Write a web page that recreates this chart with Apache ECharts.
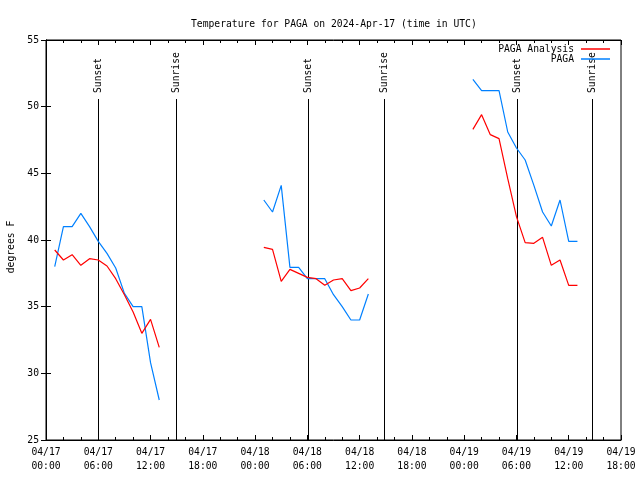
<!DOCTYPE html>
<html>
<head>
<meta charset="utf-8">
<script src="https://cdn.jsdelivr.net/npm/echarts@6/dist/echarts.min.js"></script>
<style>html,body{margin:0;padding:0;background:#fff}#c{width:640px;height:480px}</style>
</head>
<body>
<div id="c"></div>
<script>
// Hours since 2024-04-17 00:00 UTC
const obsHours = [1,2,3,4,5,6,7,8,9,10,11,12,13,
                  25,26,27,28,29,30,31,32,33,34,35,36,37,
                  49,50,51,52,53,54,55,56,57,58,59,60,61];
const analysisTemps = [39.25,38.5,38.9,38.1,38.6,38.5,38.05,37.1,35.9,34.6,33.0,34.05,31.95,
                       39.45,39.3,36.9,37.8,37.5,37.2,37.1,36.6,37.0,37.1,36.2,36.4,37.1,
                       48.3,49.4,47.9,47.6,44.6,41.75,39.8,39.75,40.2,38.1,38.5,36.6,36.6];
const pagaTemps = [38.0,41.0,41.0,42.0,41.0,39.9,39.0,37.9,36.0,35.0,35.0,30.8,28.0,
                   43.0,42.1,44.1,37.95,37.95,37.1,37.1,37.1,35.9,35.0,34.0,34.0,35.95,
                   52.05,51.2,51.2,51.2,48.1,46.9,46.0,44.1,42.1,41.05,43.0,39.9,39.9];
const sunHours = [6.0, 14.87, 30.02, 38.75, 54.03, 62.62];
const sunLabels = ['Sunset','Sunrise','Sunset','Sunrise','Sunset','Sunrise'];
const xTickHours = [0,6,12,18,24,30,36,42,48,54,60,66];
const baseUTC = Date.UTC(2024,3,17,0,0);

function buildSeries(vals){
  const out = [];
  for (let i=0;i<obsHours.length;i++){
    if (i>0 && obsHours[i]-obsHours[i-1]>1) out.push([ (obsHours[i]+obsHours[i-1])/2, null ]);
    out.push([obsHours[i], vals[i]]);
  }
  return out;
}
function pad(n){return (n<10?'0':'')+n;}
function fmtHour(v){
  const d = new Date(baseUTC + v*3600e3);
  return pad(d.getUTCMonth()+1)+'/'+pad(d.getUTCDate())+'\n'+pad(d.getUTCHours())+':'+pad(d.getUTCMinutes());
}
const FONT = '"DejaVu Sans Mono", monospace';
const FS = 9.7;

const chart = echarts.init(document.getElementById('c'), null, {renderer:'canvas'});
const tickStyle = {show:true, inside:true, length:5, lineStyle:{color:'#000', width:1}};
const minorStyle = {show:true, splitNumber:3, length:3, lineStyle:{color:'#000', width:1}};
chart.setOption({
  animation:false,
  backgroundColor:'#fff',
  title:{text:'Temperature for PAGA on 2024-Apr-17 (time in UTC)', left:186, top:14,
    textStyle:{fontFamily:FONT, fontSize:FS, fontWeight:'normal', color:'#000'}},
  legend:[
    {data:['PAGA Analysis'], right:30, top:44, orient:'vertical', align:'right', icon:'rect',
     itemWidth:29, itemHeight:1.5, itemGap:0, padding:0,
     textStyle:{fontFamily:FONT, fontSize:FS, color:'#000', padding:[0,2,0,0]}},
    {data:['PAGA'], right:30, top:54, orient:'vertical', align:'right', icon:'rect',
     itemWidth:29, itemHeight:1.5, itemGap:0, padding:0,
     textStyle:{fontFamily:FONT, fontSize:FS, color:'#000', padding:[0,2,0,0]}}
  ],
  graphic:[{type:'text', x:11, y:247, rotation:Math.PI/2,
    style:{text:'degrees F', fontFamily:FONT, fontSize:FS, fill:'#000', align:'center', verticalAlign:'middle'}}],
  grid:{left:46, right:19, top:40, bottom:40, show:true, borderColor:'#000', borderWidth:1, backgroundColor:'transparent'},
  xAxis:[
    {type:'value', min:0, max:66, interval:6, position:'bottom',
     axisLine:{show:true, lineStyle:{color:'#000'}}, axisTick:tickStyle, minorTick:minorStyle,
     splitLine:{show:false}, minorSplitLine:{show:false},
     axisLabel:{formatter:fmtHour, fontFamily:FONT, fontSize:FS, color:'#000', lineHeight:13.5, margin:6,
       customValues: xTickHours}},
    {type:'value', min:0, max:66, interval:6, position:'top',
     axisLine:{show:true, lineStyle:{color:'#000'}}, axisTick:tickStyle, minorTick:minorStyle,
     splitLine:{show:false}, axisLabel:{show:false}}
  ],
  yAxis:[
    {type:'value', min:25, max:55, interval:5, position:'left',
     axisLine:{show:true, lineStyle:{color:'#000'}}, axisTick:tickStyle, splitLine:{show:false},
     axisLabel:{fontFamily:FONT, fontSize:FS, color:'#000', margin:7}},
    {type:'value', min:25, max:55, interval:5, position:'right',
     axisLine:{show:true, lineStyle:{color:'#000'}}, axisTick:tickStyle, splitLine:{show:false},
     axisLabel:{show:false}}
  ],
  series:[
    {type:'custom', name:'sun', silent:true, z:1,
     data: sunHours.map((h,i)=>[h, i]),
     encode:{x:0},
     renderItem:function(params, api){
       const cs = params.coordSys;
       const x = Math.round(api.coord([api.value(0), 25])[0]) + 0.5;
       const bottom = cs.y + cs.height;
       const top = cs.y + 59;
       return {type:'group', children:[
         {type:'line', shape:{x1:x, y1:top, x2:x, y2:bottom}, style:{stroke:'#000', lineWidth:1}},
         {type:'text', x:x, y:top-6, rotation:Math.PI/2,
          style:{text:sunLabels[api.value(1)], fontFamily:FONT, fontSize:FS, fill:'#000', align:'left', verticalAlign:'middle'}}
       ]};
     }},
    {type:'line', name:'PAGA Analysis', data:buildSeries(analysisTemps), showSymbol:false, symbol:'none',
     connectNulls:false, lineStyle:{color:'#ff0000', width:1.2}, itemStyle:{color:'#ff0000'}, z:3},
    {type:'line', name:'PAGA', data:buildSeries(pagaTemps), showSymbol:false, symbol:'none',
     connectNulls:false, lineStyle:{color:'#0080ff', width:1.2}, itemStyle:{color:'#0080ff'}, z:2}
  ]
});
</script>
</body>
</html>
